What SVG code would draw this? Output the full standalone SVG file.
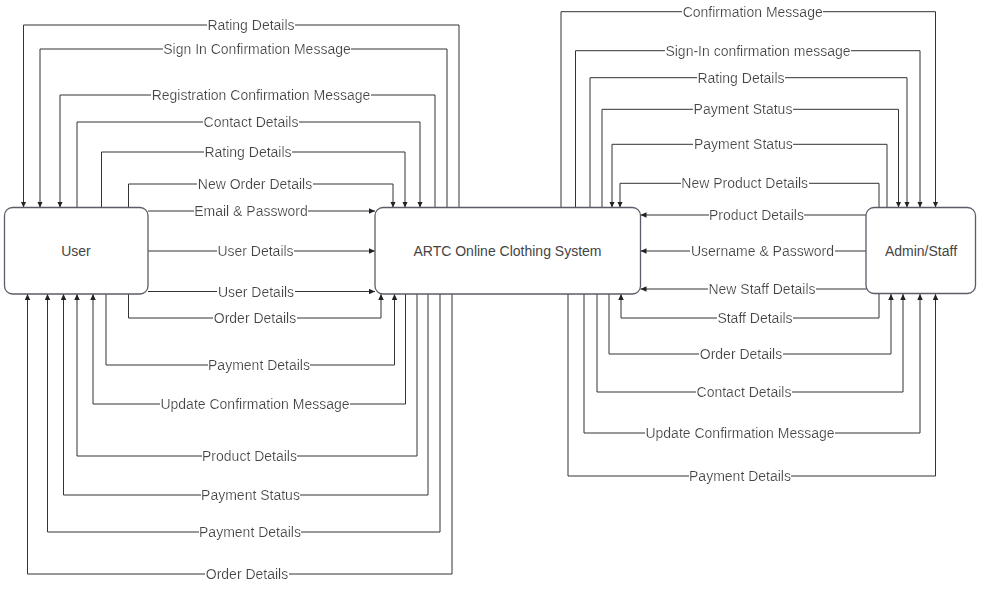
<svg xmlns="http://www.w3.org/2000/svg" width="998" height="596" viewBox="0 0 998 596">
<style>
.node rect{fill:#fff;stroke:#5a5d68;stroke-width:1.3}
.node text{font-family:"Liberation Sans",Arial,sans-serif;font-size:14px;fill:#444;text-anchor:middle;dominant-baseline:central}
.edges path{fill:none;stroke:#333;stroke-width:1;marker-end:url(#arr)}
.lbl{font-family:"Liberation Sans",Arial,sans-serif;font-size:14px;fill:#444;text-anchor:middle;dominant-baseline:central;filter:url(#bg)}
</style>
<defs>
<marker id="arr" markerUnits="userSpaceOnUse" markerWidth="7" markerHeight="6" refX="6" refY="2.75" orient="auto"><path d="M0,0 L6,2.75 L0,5.5 Z" fill="#222"/></marker>
<filter id="bg" x="0" y="0" width="1" height="1"><feFlood flood-color="#fff"/><feComposite in="SourceGraphic" operator="over"/></filter>
</defs>
<rect width="998" height="596" fill="#fff"/>
<g class="edges" id="connectors">
<path d="M459,207.5 V25 H23.5 V207.5"/>
<path d="M447,207.5 V49 H40 V207.5"/>
<path d="M435,207.5 V95 H60 V207.5"/>
<path d="M77,207.5 V122 H420 V207.5"/>
<path d="M101.5,207.5 V152 H405 V207.5"/>
<path d="M128.5,207.5 V184 H393 V207.5"/>
<path d="M148,211 H375"/>
<path d="M148,251 H375"/>
<path d="M148,291.5 H375"/>
<path d="M128.5,294 V318 H381 V294"/>
<path d="M106,294 V365 H394.5 V294"/>
<path d="M405.5,294 V404 H93 V294"/>
<path d="M417,294 V456 H77 V294"/>
<path d="M428,294 V495 H63.5 V294"/>
<path d="M440,294 V532 H47.5 V294"/>
<path d="M452,294 V574 H27.5 V294"/>
<path d="M561,207.5 V11.7 H935.5 V207.5"/>
<path d="M575.5,207.5 V50.7 H920 V207.5"/>
<path d="M590,207.5 V77.7 H907 V207.5"/>
<path d="M602,207.5 V109.3 H898.5 V207.5"/>
<path d="M887,207.5 V144.3 H612 V207.5"/>
<path d="M879,207.5 V183.3 H620 V207.5"/>
<path d="M866,215 H640.5"/>
<path d="M866,251 H640.5"/>
<path d="M866,289 H640.5"/>
<path d="M879,294 V318 H621 V294"/>
<path d="M609,294 V354 H891 V294"/>
<path d="M597,294 V392 H903 V294"/>
<path d="M584,294 V433 H920 V294"/>
<path d="M568,294 V476 H935.5 V294"/>
<text class="lbl" x="251" y="25">Rating Details</text>
<text class="lbl" x="257" y="49">Sign In Confirmation Message</text>
<text class="lbl" x="261" y="95">Registration Confirmation Message</text>
<text class="lbl" x="251" y="122">Contact Details</text>
<text class="lbl" x="248" y="152">Rating Details</text>
<text class="lbl" x="255" y="184">New Order Details</text>
<text class="lbl" x="251" y="211">Email &amp; Password</text>
<text class="lbl" x="255.5" y="251">User Details</text>
<text class="lbl" x="256" y="291.5">User Details</text>
<text class="lbl" x="255" y="318">Order Details</text>
<text class="lbl" x="259" y="365">Payment Details</text>
<text class="lbl" x="255" y="404">Update Confirmation Message</text>
<text class="lbl" x="249.5" y="456">Product Details</text>
<text class="lbl" x="250.5" y="495">Payment Status</text>
<text class="lbl" x="250" y="532">Payment Details</text>
<text class="lbl" x="247" y="574">Order Details</text>
<text class="lbl" x="752.7" y="11.7">Confirmation Message</text>
<text class="lbl" x="758" y="50.7">Sign-In confirmation message</text>
<text class="lbl" x="741" y="77.7">Rating Details</text>
<text class="lbl" x="743" y="109.3">Payment Status</text>
<text class="lbl" x="743.4" y="144.3">Payment Status</text>
<text class="lbl" x="744.7" y="183.3">New Product Details</text>
<text class="lbl" x="756.5" y="215">Product Details</text>
<text class="lbl" x="762.5" y="251">Username &amp; Password</text>
<text class="lbl" x="762" y="289">New Staff Details</text>
<text class="lbl" x="755" y="318">Staff Details</text>
<text class="lbl" x="741" y="354">Order Details</text>
<text class="lbl" x="744" y="392">Contact Details</text>
<text class="lbl" x="740" y="433">Update Confirmation Message</text>
<text class="lbl" x="740" y="476">Payment Details</text>
</g>
<g class="node" id="user">
<rect x="4.5" y="207.5" width="143.5" height="86.5" rx="8"/>
<text x="76" y="251">User</text>
</g>
<g class="node" id="system">
<rect x="375" y="207.5" width="265.5" height="86.5" rx="8"/>
<text x="507.5" y="251">ARTC Online Clothing System</text>
</g>
<g class="node" id="admin">
<rect x="866" y="207.5" width="109.5" height="86" rx="8"/>
<text x="921" y="251">Admin/Staff</text>
</g>
</svg>
